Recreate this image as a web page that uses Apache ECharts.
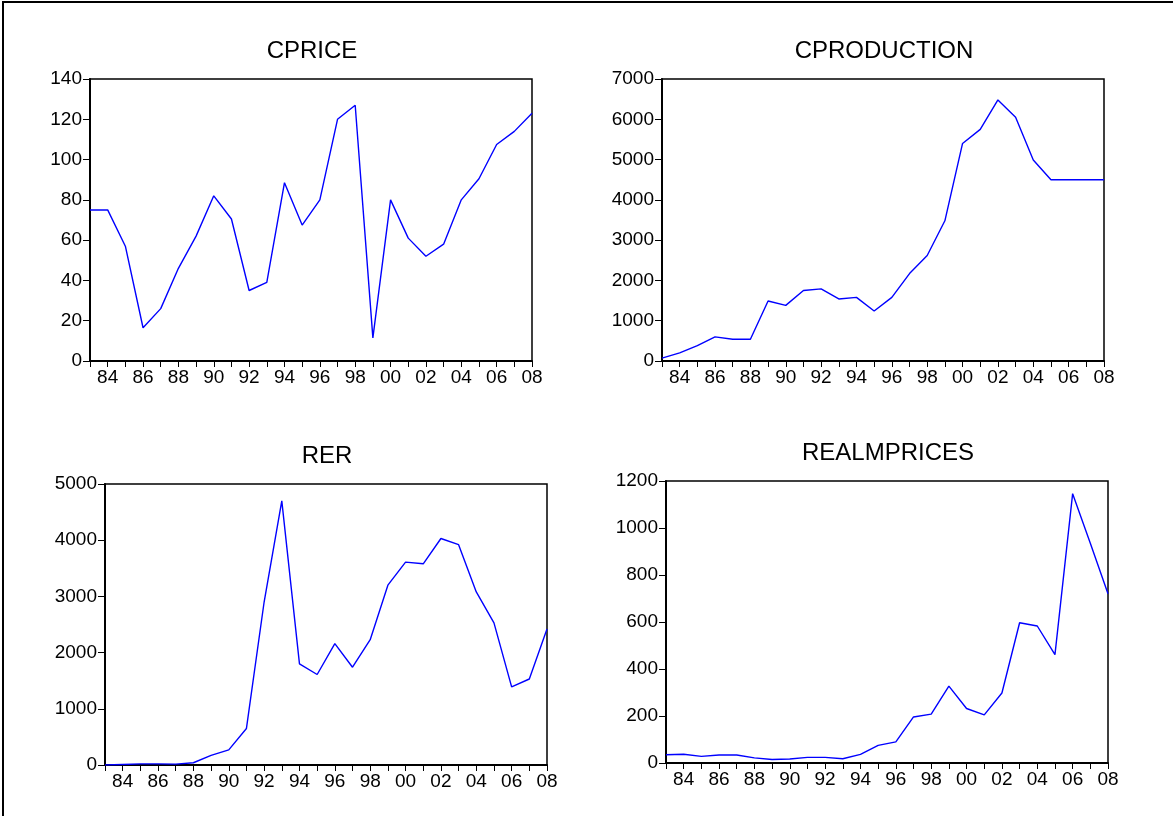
<!DOCTYPE html>
<html>
<head>
<meta charset="utf-8">
<script src="https://cdn.jsdelivr.net/npm/echarts@6/dist/echarts.min.js"></script>
<style>
  html, body { margin: 0; padding: 0; background: #fff; }
  #frame { position: absolute; left: 2px; top: 1px; width: 1171px; height: 815px;
           border-left: 2px solid #000; border-top: 2px solid #000; box-sizing: border-box; }
  #main { position: absolute; left: 0; top: 0; width: 1173px; height: 816px; }
</style>
</head>
<body>
<div id="frame"></div>
<div id="main"></div>
<script>
// years 1983 - 2008
const years = ['83','84','85','86','87','88','89','90','91','92','93','94','95',
               '96','97','98','99','00','01','02','03','04','05','06','07','08'];

const cprice = [75, 75, 57, 16.5, 26, 46, 62, 82, 70.5, 35, 39, 88.5, 67.5,
                80, 120, 127, 11.5, 80, 61, 52, 58, 80, 90.5, 107.5, 114, 123];

const cproduction = [70, 200, 380, 600, 540, 540, 1490, 1380, 1750, 1790, 1540, 1580, 1240,
                     1580, 2170, 2620, 3480, 5400, 5750, 6480, 6050, 4990, 4500, 4500, 4500, 4500];

const rer = [0, 10, 20, 20, 15, 40, 170, 270, 650, 2900, 4700, 1800, 1610,
             2160, 1740, 2230, 3200, 3610, 3580, 4030, 3920, 3080, 2530, 1390, 1530, 2420];

const realmprices = [35, 37, 28, 34, 34, 22, 15, 17, 24, 24, 18, 37, 75,
                     90, 196, 208, 327, 232, 205, 298, 597, 583, 461, 1146, 935, 720];

const panels = [
  { name: 'CPRICE',      data: cprice,      max: 140,  step: 20,   box: [90, 79, 442, 282] },
  { name: 'CPRODUCTION', data: cproduction, max: 7000, step: 1000, box: [662, 79, 442, 282] },
  { name: 'RER',         data: rer,         max: 5000, step: 1000, box: [105, 484, 442, 281] },
  { name: 'REALMPRICES', data: realmprices, max: 1200, step: 200,  box: [666, 481, 442, 282] }
];

const font = '"Liberation Sans", Arial, Helvetica, sans-serif';

const chart = echarts.init(document.getElementById('main'));

chart.setOption({
  animation: false,
  textStyle: { fontFamily: font },
  title: panels.map(p => ({
    text: p.name,
    left: p.box[0] + p.box[2] / 2 - 4,
    top: p.box[1] - 45,
    textAlign: 'center',
    textStyle: { fontFamily: font, fontSize: 24, fontWeight: 'normal', color: '#000' }
  })),
  grid: panels.map(p => ({
    left: p.box[0], top: p.box[1], width: p.box[2], height: p.box[3],
    show: true, borderColor: '#000', borderWidth: 1.5, containLabel: false
  })),
  xAxis: panels.map((p, i) => ({
    type: 'category',
    gridIndex: i,
    data: years,
    boundaryGap: false,
    axisLine: { lineStyle: { color: '#000', width: 2 } },
    axisTick: { show: true, interval: 0, length: 6, lineStyle: { color: '#000', width: 1 } },
    axisLabel: {
      interval: idx => idx % 2 === 1,
      color: '#000', fontSize: 19, fontFamily: font, margin: 7
    },
    splitLine: { show: false }
  })),
  yAxis: panels.map((p, i) => ({
    type: 'value',
    gridIndex: i,
    min: 0,
    max: p.max,
    interval: p.step,
    axisLine: { show: true, lineStyle: { color: '#000', width: 2 } },
    axisTick: { show: true, length: 7, lineStyle: { color: '#000', width: 1 } },
    axisLabel: { color: '#000', fontSize: 19, fontFamily: font, margin: 8,
                 formatter: v => String(v) },
    splitLine: { show: false }
  })),
  series: panels.map((p, i) => ({
    type: 'line',
    xAxisIndex: i,
    yAxisIndex: i,
    data: p.data,
    symbol: 'none',
    lineStyle: { color: '#0000ff', width: 1.4 }
  }))
});
</script>
</body>
</html>
